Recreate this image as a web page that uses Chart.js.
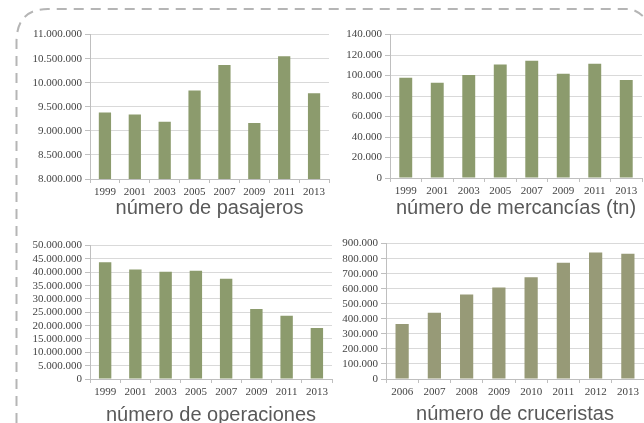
<!DOCTYPE html>
<html>
<head>
<meta charset="utf-8">
<script src="https://cdn.jsdelivr.net/npm/chart.js@4"></script>
<style>
	html, body { margin: 0; padding: 0; background: #fff; overflow: hidden; }
	#wrap { position: relative; width: 644px; height: 423px; }
	#wrap canvas { position: absolute; }
	#frame { position: absolute; left: 0; top: 0; }
</style>
</head>
<body>
<div id="wrap">
	<svg id="frame" width="644" height="423">
		<path d="M16.5,423 L16.5,42 Q16.5,9 48,9 L628,9 Q636,9 646,19" fill="none" stroke="#b5b5b5" stroke-width="2" stroke-dasharray="10 7"></path>
	</svg>
	<canvas id="chartPasajeros" width="312" height="193" style="left:20px;top:25px"></canvas>
	<canvas id="chartMercancias" width="309" height="193" style="left:335px;top:25px"></canvas>
	<canvas id="chartOperaciones" width="314" height="189" style="left:20px;top:236px"></canvas>
	<canvas id="chartCruceristas" width="324" height="190" style="left:320px;top:234px"></canvas>
</div>
<script>
// categories
var years = ["1999", "2001", "2003", "2005", "2007", "2009", "2011", "2013"];
var cruiseYears = ["2006", "2007", "2008", "2009", "2010", "2011", "2012", "2013"];

// series values
var pasajeros = [9380000, 9340000, 9190000, 9840000, 10370000, 9165000, 10550000, 9780000];
var mercancias = [97900, 93100, 100500, 110900, 114400, 101800, 111500, 95700];
var operaciones = [43800000, 41000000, 40200000, 40600000, 37600000, 26200000, 23700000, 19100000];
var cruceristas = [365000, 441000, 561000, 609000, 677000, 773000, 841000, 832000];

// y axis ranges: [min, max, step]
var rangePasajeros = [8000000, 11000000, 500000];
var rangeMercancias = [0, 140000, 20000];
var rangeOperaciones = [0, 50000000, 5000000];
var rangeCruceristas = [0, 900000, 100000];

var titles = ["número de pasajeros", "número de mercancías (tn)", "número de operaciones", "número de cruceristas"];

function dots(v) {
	return String(v).replace(/\B(?=(\d{3})+(?!\d))/g, ".");
}

function makeChart(id, labels, values, range, title, color, box) {
	var ctx = document.getElementById(id).getContext("2d");
	return new Chart(ctx, {
		type: "bar",
		data: {
			labels: labels,
			datasets: [{
				data: values,
				backgroundColor: color,
				borderWidth: 0,
				barPercentage: 0.41,
				categoryPercentage: 1,
			}],
		},
		options: {
			responsive: false,
			animation: false,
			layout: { padding: { top: box.top, right: box.right, bottom: 0, left: 0 } },
			plugins: { legend: { display: false }, tooltip: { enabled: false } },
			scales: {
				x: {
					grid: { display: true, drawOnChartArea: false, tickLength: 4, color: "#bfbfbf" },
					border: { color: "#bfbfbf" },
					ticks: {
						autoSkip: false,
						maxRotation: 0,
						padding: 3,
						color: "#444",
						font: { family: "Liberation Serif", size: 11 },
					},
					title: {
						display: true,
						text: title,
						color: "#595959",
						padding: 0,
						font: { family: "Liberation Sans", size: 20, lineHeight: 1 },
					},
					afterFit: function (s) { s.height = box.xh; },
				},
				y: {
					min: range[0],
					max: range[1],
					grid: { color: "#d9d9d9", tickLength: 5, tickColor: "#bfbfbf" },
					border: { color: "#bfbfbf" },
					ticks: {
						stepSize: range[2],
						autoSkip: false,
						padding: 3,
						color: "#444",
						font: { family: "Liberation Serif", size: 11 },
						callback: function (v) { return dots(v); },
					},
					afterFit: function (s) { s.width = box.yw; },
				},
			},
		},
	});
}

makeChart("chartPasajeros", years, pasajeros, rangePasajeros, titles[0], "#8c9b6d", { top: 9, right: 3, xh: 39, yw: 70 });
makeChart("chartMercancias", years, mercancias, rangeMercancias, titles[1], "#8c9b6d", { top: 8, right: 2, xh: 40, yw: 55 });
makeChart("chartOperaciones", years, operaciones, rangeOperaciones, titles[2], "#8c9b6d", { top: 8, right: 2, xh: 46, yw: 70 });
makeChart("chartCruceristas", cruiseYears, cruceristas, rangeCruceristas, titles[3], "#979a77", { top: 8, right: 0, xh: 45, yw: 66 });
</script>
</body>
</html>
